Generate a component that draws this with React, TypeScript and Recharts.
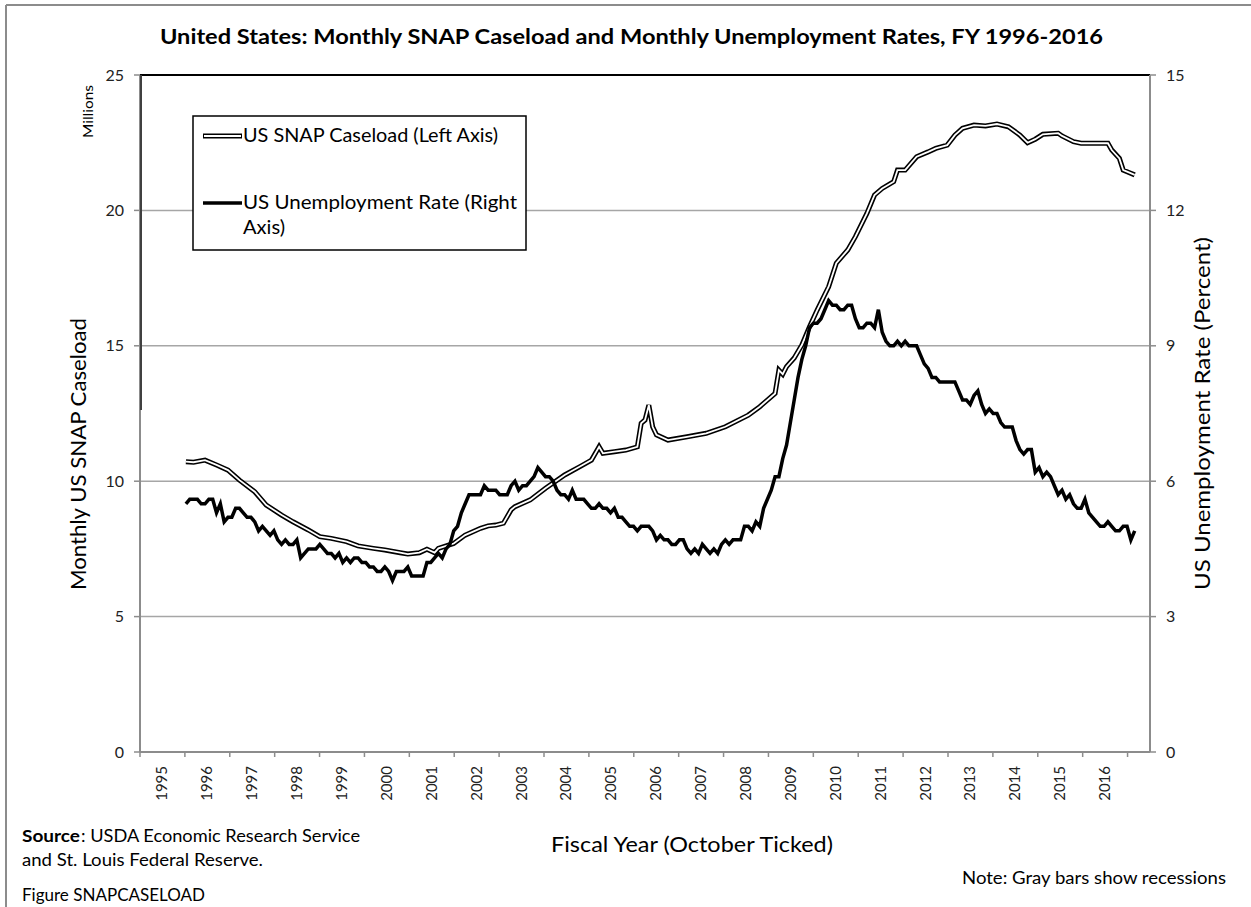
import { LineChart, Line, XAxis, YAxis, CartesianGrid, ReferenceLine, Legend } from "recharts";

// month index counted from October 1994 (start of FY1995)
const fiscalYears = [
  1995, 1996, 1997, 1998, 1999, 2000, 2001, 2002, 2003, 2004, 2005,
  2006, 2007, 2008, 2009, 2010, 2011, 2012, 2013, 2014, 2015, 2016,
];
const yearTicks = [0, 1, 2, 3, 4, 5, 6, 7, 8, 9, 10, 11, 12, 13, 14, 15, 16, 17, 18, 19, 20, 21, 22];
const leftTicks = [0, 5, 10, 15, 20, 25];
const rightTicks = [0, 3, 6, 9, 12, 15];

// US unemployment rate (percent), monthly from Oct 1995
const unemploymentStart = 12;
const unemployment = [
  5.5, 5.6, 5.6,
  5.6, 5.5, 5.5, 5.6, 5.6, 5.3, 5.5, 5.1, 5.2, 5.2, 5.4, 5.4,
  5.3, 5.2, 5.2, 5.1, 4.9, 5.0, 4.9, 4.8, 4.9, 4.7, 4.6, 4.7,
  4.6, 4.6, 4.7, 4.3, 4.4, 4.5, 4.5, 4.5, 4.6, 4.5, 4.4, 4.4,
  4.3, 4.4, 4.2, 4.3, 4.2, 4.3, 4.3, 4.2, 4.2, 4.1, 4.1, 4.0,
  4.0, 4.1, 4.0, 3.8, 4.0, 4.0, 4.0, 4.1, 3.9, 3.9, 3.9, 3.9,
  4.2, 4.2, 4.3, 4.4, 4.3, 4.5, 4.6, 4.9, 5.0, 5.3, 5.5, 5.7,
  5.7, 5.7, 5.7, 5.9, 5.8, 5.8, 5.8, 5.7, 5.7, 5.7, 5.9, 6.0,
  5.8, 5.9, 5.9, 6.0, 6.1, 6.3, 6.2, 6.1, 6.1, 6.0, 5.8, 5.7,
  5.7, 5.6, 5.8, 5.6, 5.6, 5.6, 5.5, 5.4, 5.4, 5.5, 5.4, 5.4,
  5.3, 5.4, 5.2, 5.2, 5.1, 5.0, 5.0, 4.9, 5.0, 5.0, 5.0, 4.9,
  4.7, 4.8, 4.7, 4.7, 4.6, 4.6, 4.7, 4.7, 4.5, 4.4, 4.5, 4.4,
  4.6, 4.5, 4.4, 4.5, 4.4, 4.6, 4.7, 4.6, 4.7, 4.7, 4.7, 5.0,
  5.0, 4.9, 5.1, 5.0, 5.4, 5.6, 5.8, 6.1, 6.1, 6.5, 6.8, 7.3,
  7.8, 8.3, 8.7, 9.0, 9.4, 9.5, 9.5, 9.6, 9.8, 10.0, 9.9, 9.9,
  9.8, 9.8, 9.9, 9.9, 9.6, 9.4, 9.4, 9.5, 9.5, 9.4, 9.8, 9.3,
  9.1, 9.0, 9.0, 9.1, 9.0, 9.1, 9.0, 9.0, 9.0, 8.8, 8.6, 8.5,
  8.3, 8.3, 8.2, 8.2, 8.2, 8.2, 8.2, 8.0, 7.8, 7.8, 7.7, 7.9,
  8.0, 7.7, 7.5, 7.6, 7.5, 7.5, 7.3, 7.2, 7.2, 7.2, 6.9, 6.7,
  6.6, 6.7, 6.7, 6.2, 6.3, 6.1, 6.2, 6.1, 5.9, 5.7, 5.8, 5.6,
  5.7, 5.5, 5.4, 5.4, 5.6, 5.3, 5.2, 5.1, 5.0, 5.0, 5.1, 5.0,
  4.9, 4.9, 5.0, 5.0, 4.7, 4.9,
];

// SNAP caseload (millions)
const snapMonths = [
  12, 14, 17, 20, 23, 26, 30, 33, 37, 40, 44, 47, 50, 54, 57, 61, 64, 68, 70, 73,
  75, 77, 78, 82, 85, 89, 91, 93, 95, 97, 98, 102, 106, 111, 115, 118, 120, 121, 124, 127,
  130, 131, 132, 133, 134, 135, 138, 143, 148, 153, 159, 162, 166, 167, 168, 169, 171, 173, 175, 177,
  180, 182, 185, 187, 190, 192, 194, 197, 198, 200, 203, 206, 208, 211, 213, 215, 218, 221, 224, 227,
  230, 232, 234, 236, 240, 241, 244, 246, 249, 253, 254, 256, 257, 258, 260,
];
const snapCaseload = [
  10.72, 10.7, 10.78, 10.6, 10.41, 10.04, 9.61, 9.12, 8.75, 8.5, 8.2, 7.95, 7.89, 7.77, 7.61, 7.52, 7.46, 7.36, 7.31, 7.36,
  7.49, 7.36, 7.52, 7.7, 8.01, 8.26, 8.35, 8.38, 8.45, 8.94, 9.06, 9.31, 9.74, 10.23, 10.54, 10.78, 11.27, 11.03, 11.09, 11.15,
  11.27, 12.14, 12.26, 12.81, 12.01, 11.71, 11.52, 11.64, 11.77, 12.01, 12.44, 12.75, 13.24, 14.1, 13.95, 14.23, 14.55, 15.03, 15.7, 16.32,
  17.18, 18.05, 18.54, 19.03, 19.89, 20.57, 20.81, 21.06, 21.49, 21.49, 21.98, 22.16, 22.29, 22.41, 22.78, 23.03, 23.15, 23.12, 23.19, 23.09,
  22.78, 22.5, 22.63, 22.81, 22.85, 22.75, 22.54, 22.48, 22.48, 22.48, 22.23, 21.92, 21.49, 21.43, 21.31,
];

const unemploymentData = unemployment.map((rate, i) => ({ m: unemploymentStart + i, rate }));
const snapData = snapMonths.map((m, i) => ({ m, caseload: snapCaseload[i] }));

const FONT = "Lato, 'Open Sans', sans-serif";
const PLOT_LEFT = 140;
const PLOT_RIGHT = 1150;
const HALF_YEAR = (PLOT_RIGHT - PLOT_LEFT) / 22.5 / 2;

function YearTick({ x, y, payload }: any) {
  const label = fiscalYears[payload.value];
  if (label === undefined) return null;
  const tx = x + HALF_YEAR + 5;
  const ty = y + 7;
  return (
    <text x={tx} y={ty} transform={`rotate(-90 ${tx} ${ty})`} textAnchor="end" fontSize={15} fontFamily={FONT} fill="#222">
      {label}
    </text>
  );
}

function LegendBox() {
  return (
    <svg width={336} height={137} style={{ display: "block" }}>
      <rect x={1} y={1} width={333} height={134} fill="#fff" stroke="#000" strokeWidth={1.5} />
      <line x1={11} y1={21} x2={50} y2={21} stroke="#000" strokeWidth={5} />
      <line x1={12} y1={21} x2={49} y2={21} stroke="#fff" strokeWidth={1.8} />
      <text x={51} y={27} fontSize={20} fontFamily={FONT} textLength={255} lengthAdjust="spacingAndGlyphs">
        US SNAP Caseload (Left Axis)
      </text>
      <line x1={11} y1={88} x2={50} y2={88} stroke="#000" strokeWidth={3.5} />
      <text x={51} y={94} fontSize={20} fontFamily={FONT} textLength={274} lengthAdjust="spacingAndGlyphs">
        US Unemployment Rate (Right
      </text>
      <text x={51} y={119} fontSize={20} fontFamily={FONT} textLength={42} lengthAdjust="spacingAndGlyphs">
        Axis)
      </text>
    </svg>
  );
}

export default function App() {
  return (
    <div style={{ position: "absolute", left: 0, top: 0, width: 1251, height: 907, background: "#fff", fontFamily: FONT }}>
      <LineChart width={1251} height={907} data={unemploymentData} margin={{ top: 75, right: 41, bottom: 95, left: 80 }}>
        <CartesianGrid xAxisId="m" yAxisId="left" vertical={false} stroke="#a6a6a6" strokeWidth={1.5} />
        <XAxis xAxisId="m" dataKey="m" type="number" domain={[0, 264]} allowDataOverflow hide />
        <XAxis
          xAxisId="fy"
          dataKey="fy"
          type="number"
          domain={[0, 22.5]}
          ticks={yearTicks}
          allowDataOverflow
          interval={0}
          height={60}
          tickSize={5}
          tick={<YearTick />}
          axisLine={{ stroke: "#8c8c8c", strokeWidth: 2 }}
          tickLine={{ stroke: "#8c8c8c", strokeWidth: 1.5 }}
        />
        <YAxis
          yAxisId="left"
          orientation="left"
          domain={[0, 25]}
          ticks={leftTicks}
          width={60}
          tickSize={6}
          tickMargin={10}
          tick={{ fontSize: 16, fontFamily: FONT, fill: "#222" }}
          axisLine={{ stroke: "#8c8c8c", strokeWidth: 2 }}
          tickLine={{ stroke: "#8c8c8c", strokeWidth: 1.5 }}
        />
        <YAxis
          yAxisId="right"
          orientation="right"
          domain={[0, 15]}
          ticks={rightTicks}
          width={60}
          tickSize={6}
          tickMargin={10}
          tick={{ fontSize: 16, fontFamily: FONT, fill: "#222" }}
          axisLine={{ stroke: "#8c8c8c", strokeWidth: 2 }}
          tickLine={{ stroke: "#8c8c8c", strokeWidth: 1.5 }}
        />
        <ReferenceLine xAxisId="m" yAxisId="left" y={25} stroke="#000" strokeWidth={2} />
        <Line
          xAxisId="m"
          yAxisId="left"
          data={snapData}
          dataKey="caseload"
          type="linear"
          stroke="#000"
          strokeWidth={5}
          dot={false}
          isAnimationActive={false}
        />
        <Line
          xAxisId="m"
          yAxisId="left"
          data={snapData}
          dataKey="caseload"
          type="linear"
          stroke="#fff"
          strokeWidth={1.8}
          dot={false}
          isAnimationActive={false}
        />
        <Line
          xAxisId="m"
          yAxisId="right"
          data={unemploymentData}
          dataKey="rate"
          type="linear"
          stroke="#000"
          strokeWidth={3.5}
          dot={false}
          isAnimationActive={false}
        />
        <Legend
          layout="horizontal"
          verticalAlign="middle"
          align="center"
          content={() => <LegendBox />}
          wrapperStyle={{ position: "absolute", left: 192, top: 115, width: 336, height: 137 }}
        />
      </LineChart>

      <svg
        width={1251}
        height={907}
        style={{ position: "absolute", left: 0, top: 0, pointerEvents: "none" }}
        fontFamily={FONT}
      >
        <line x1={6} y1={5} x2={1251} y2={5} stroke="#8c8c8c" strokeWidth={2} />
        <line x1={6} y1={5} x2={6} y2={907} stroke="#8c8c8c" strokeWidth={2} />
        {/* darker upper part of the left axis, as in the source figure */}
        <line x1={141} y1={75} x2={141} y2={410} stroke="#404040" strokeWidth={2} />
        <text x={160} y={44} fontSize={20} fontWeight="bold" textLength={943} lengthAdjust="spacingAndGlyphs">
          United States: Monthly SNAP Caseload and Monthly Unemployment Rates, FY 1996-2016
        </text>
        <text x={93} y={138} fontSize={13} transform="rotate(-90 93 138)" textLength={53} lengthAdjust="spacingAndGlyphs">
          Millions
        </text>
        <text x={86} y={590} fontSize={22} transform="rotate(-90 86 590)" textLength={272} lengthAdjust="spacingAndGlyphs">
          Monthly US SNAP Caseload
        </text>
        <text x={1210} y={590} fontSize={22} transform="rotate(-90 1210 590)" textLength={353} lengthAdjust="spacingAndGlyphs">
          US Unemployment Rate (Percent)
        </text>
        <text x={551} y={852} fontSize={22} textLength={282} lengthAdjust="spacingAndGlyphs">
          Fiscal Year (October Ticked)
        </text>
        <text x={22} y={842} fontSize={17} fontWeight="bold" textLength={58} lengthAdjust="spacingAndGlyphs">
          Source
        </text>
        <text x={81} y={842} fontSize={17} textLength={279} lengthAdjust="spacingAndGlyphs">
          : USDA Economic Research Service
        </text>
        <text x={22} y={866} fontSize={17} textLength={241} lengthAdjust="spacingAndGlyphs">
          and St. Louis Federal Reserve.
        </text>
        <text x={22} y={901} fontSize={17} textLength={183} lengthAdjust="spacingAndGlyphs">
          Figure SNAPCASELOAD
        </text>
        <text x={962} y={884} fontSize={17} textLength={264} lengthAdjust="spacingAndGlyphs">
          Note: Gray bars show recessions
        </text>
      </svg>
    </div>
  );
}
